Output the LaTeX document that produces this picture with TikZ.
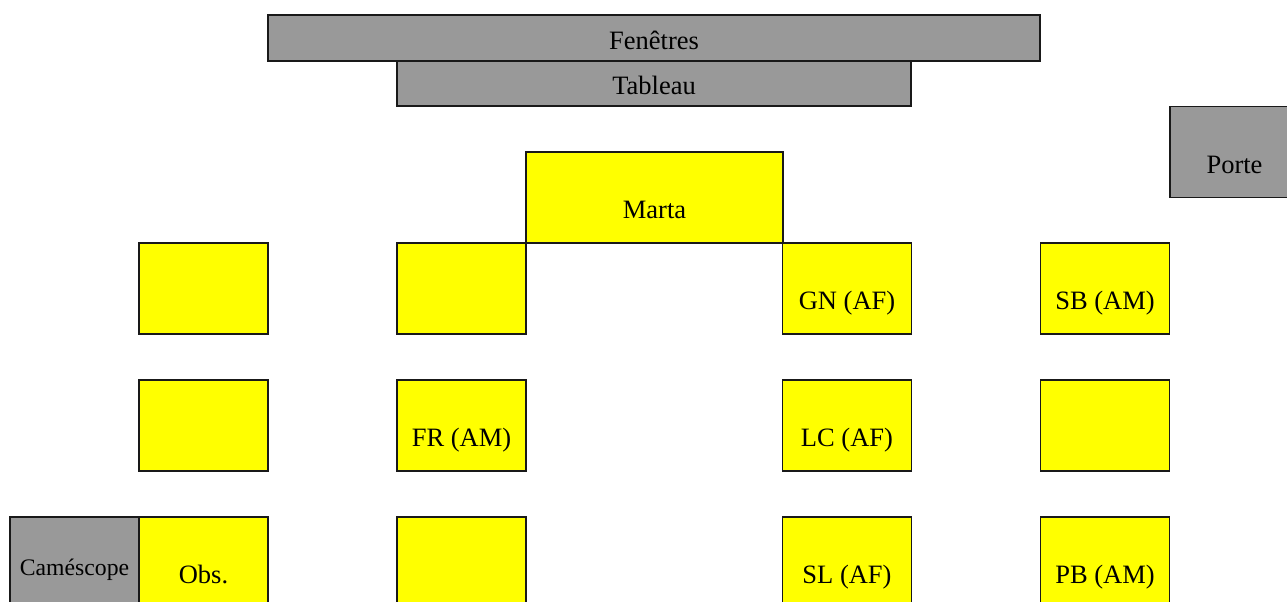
\documentclass[tikz,border=0pt]{standalone}
\usepackage{fontspec}
\setmainfont{Liberation Serif}

\definecolor{meuble}{HTML}{999999}
\definecolor{pupitre}{HTML}{FFFF00}

\tikzset{
  box/.style={draw=black!90, line width=0.6pt, inner sep=0pt,
    text height=21pt, text depth=0pt,
    minimum width=64.5pt, minimum height=45.5pt,
    font=\fontsize{13.25}{16}\selectfont},
  desk/.style={box, fill=pupitre},
  gris/.style={box, fill=meuble},
  flat/.style={text height=11pt, minimum height=23pt},
}

\begin{document}
\begin{tikzpicture}[x=0.5pt,y=-0.5pt]
    \useasboundingbox (0,0) rectangle (1287,601);
    \clip (0,0) rectangle (1287,601);
    % front of the room
    \node[gris,flat,minimum width=386pt] (fenetres) at (654,38) {Fenêtres};
    \node[gris,flat,minimum width=257pt,minimum height=22.5pt] (tableau) at (654,83.5) {Tableau};
    \node[gris] (porte) at (1234.5,152) {Porte};
    \node[desk,minimum width=128.5pt] (marta) at (654.5,197.5) {Marta};
    % first row
    \node[desk] (a1) at (203.5,288.5) {};
    \node[desk] (b1) at (461.5,288.5) {};
    \node[desk] (c1) at (847,288.5) {GN (AF)};
    \node[desk] (d1) at (1105,288.5) {SB (AM)};
    % second row
    \node[desk] (a2) at (203.5,425.5) {};
    \node[desk] (b2) at (461.5,425.5) {FR (AM)};
    \node[desk] (c2) at (847,425.5) {LC (AF)};
    \node[desk] (d2) at (1105,425.5) {};
    % third row
    \node[gris,text height=12.5pt,font=\fontsize{11.85}{14}\selectfont] (camescope) at (74.5,562.5) {Caméscope};
    \node[desk] (a3) at (203.5,562.5) {Obs.};
    \node[desk] (b3) at (461.5,562.5) {};
    \node[desk] (c3) at (847,562.5) {SL (AF)};
    \node[desk] (d3) at (1105,562.5) {PB (AM)};
\end{tikzpicture}
\end{document}
